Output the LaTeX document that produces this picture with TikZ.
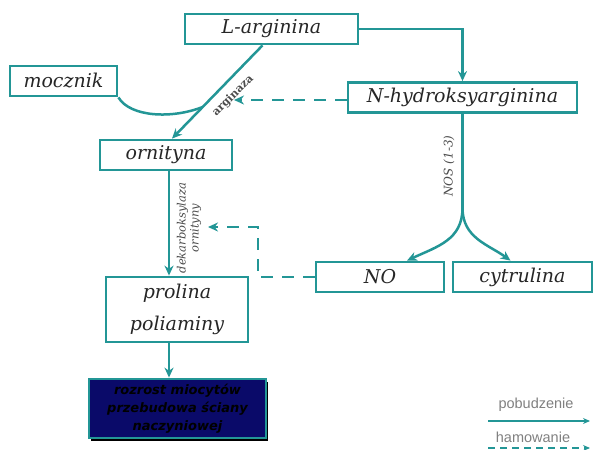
\documentclass[tikz,border=0pt]{standalone}
\usepackage{fontspec}
\setmainfont{DejaVu Serif}
\newfontfamily\legendfont{Liberation Sans}
\newfontfamily\effectfont{DejaVu Sans}
\usepackage{tikz}
\usetikzlibrary{arrows.meta,shadows}
\definecolor{tealline}{RGB}{35,150,150}
\definecolor{navyfill}{RGB}{10,10,105}

\begin{document}
\begin{tikzpicture}[x=1pt, y=-1pt,
  box/.style={draw=tealline, line width=2.8pt, fill=white, minimum height=30pt,
    inner sep=2pt, text=black!85, font=\fontsize{19}{21}\selectfont\itshape},
  effect/.style={draw=tealline, line width=2.8pt, fill=navyfill, text=black,
    align=center, font=\effectfont\fontsize{13}{18}\selectfont\bfseries\itshape,
    drop shadow={shadow xshift=2pt, shadow yshift=-3pt, fill=black, opacity=1}},
  arr/.style={-{Stealth[length=10pt,width=9pt]}, line width=2.5pt, tealline},
  link/.style={line width=2.5pt, tealline},
  inh/.style={arr, dash pattern=on 12pt off 9pt},
  enzyme/.style={font=\fontsize{12}{13}\selectfont\itshape, text=black!70, inner sep=0pt},
  legend/.style={font=\legendfont\fontsize{14.5}{16}\selectfont, text=black!50},
]
\useasboundingbox (0,0) rectangle (595,450);

% Substrates and products
\node[box, minimum width=173pt] (larg) at (271.5,29) {L-arginina};
\node[box, minimum width=107pt] (mocz) at (63.5,81) {mocznik};
\node[box, minimum width=229pt] (nhyd) at (462.5,97.5) {N-hydroksyarginina};
\node[box, minimum width=132pt] (orn)  at (166,155) {ornityna};
\node[box, minimum width=142pt, minimum height=65pt, align=center] (prol) at (177,309.5)
  {prolina\\[11pt]poliaminy};
\node[box, minimum width=128pt] (no)   at (380,277) {NO};
\node[box, minimum width=139pt] (cyt)  at (522.5,277) {cytrulina};

% Effect
\node[effect, minimum width=177pt, minimum height=59pt] (eff) at (177.5,408.5)
  {rozrost miocytów\\przebudowa ściany\\naczyniowej};

% Helper points
\coordinate (argtip) at (234,100);
\coordinate (dkbend) at (258,227);
\coordinate (dektip) at (208,227);
\coordinate (fork)   at (462.5,208);

% Arginase branch
\draw[arr] ([xshift=-9pt]larg.south) -- coordinate[pos=0.66] (mjoin) ([xshift=6pt]orn.north);
\draw[link] (mocz.south east) .. controls +(12,20) and +(-30,12) .. (mjoin);
\node[enzyme, rotate=45, font=\fontsize{11}{12}\selectfont\bfseries] (argz) at (233,96) {arginaza};

% NOS branch
\draw[arr] (larg.east) -| (nhyd.north);
\draw[link] (nhyd.south) -- (fork);
\draw[arr] (fork) .. controls +(0,32) and +(30,-14) .. ([xshift=27pt]no.north);
\draw[arr] (fork) .. controls +(0,30) and +(-22,-16) .. ([xshift=-12pt]cyt.north);
\node[enzyme, rotate=90] (nos) at (449,166) {NOS (1-3)};

% Ornithine decarboxylase
\draw[arr] ([xshift=3pt]orn.south) -- ([xshift=3pt]orn.south |- prol.north);
\node[enzyme, rotate=90, align=center, font=\fontsize{11.5}{13}\selectfont\itshape] (odc)
  at (189,228) {dekarboksylaza\\ornityny};
\draw[arr] ([xshift=-8pt]prol.south) -- ([xshift=-8pt]prol.south |- eff.north);

% Inhibition (dashed)
\draw[inh] (nhyd.west |- argtip) -- (argtip);
\draw[inh] (no.west) -| (dkbend) -- (dektip);

% Legend
\node[legend] (exc) at (536,405) {pobudzenie};
\coordinate (exca) at (488,421);
\coordinate (excb) at (590,421);
\draw[arr, line width=1.8pt, -{Stealth[length=7pt,width=6pt]}] (exca) -- (excb);
\node[legend] (inhl) at (533,437) {hamowanie};
\coordinate (inha) at (488,448);
\coordinate (inhb) at (590,448);
\draw[inh, line width=1.8pt, dash pattern=on 7pt off 5pt, -{Stealth[length=7pt,width=6pt]}] (inha) -- (inhb);
\end{tikzpicture}
\end{document}
